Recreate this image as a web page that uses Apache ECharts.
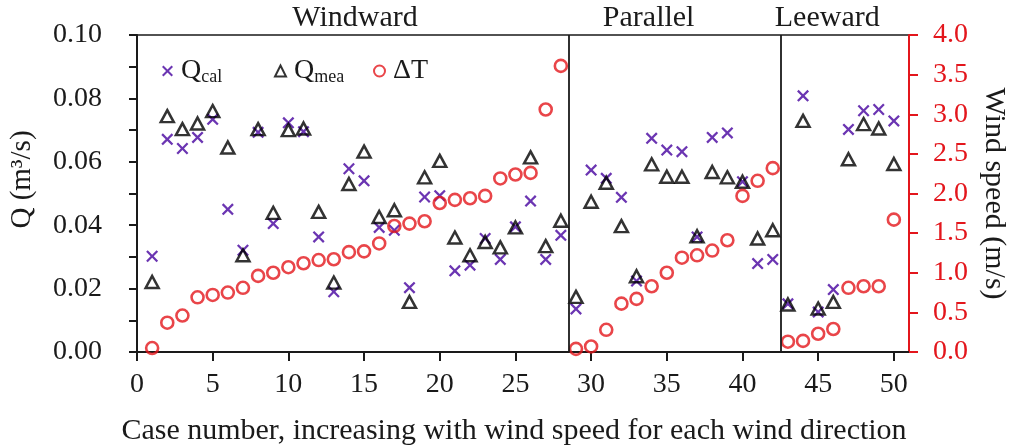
<!DOCTYPE html>
<html>
<head>
<meta charset="utf-8">
<script src="https://cdn.jsdelivr.net/npm/echarts@6/dist/echarts.min.js"></script>
<style>
  html, body { margin: 0; padding: 0; background: #fff; }
  #chart { width: 1011px; height: 448px; }
</style>
</head>
<body>
<div id="chart"></div>
<script>
// Case numbers (x axis)
const caseNo = [1, 2, 3, 4, 5, 6, 7, 8, 9, 10,
  11, 12, 13, 14, 15, 16, 17, 18, 19, 20,
  21, 22, 23, 24, 25, 26, 27, 28, 29, 30,
  31, 32, 33, 34, 35, 36, 37, 38, 39, 40,
  41, 42, 43, 44, 45, 46, 47, 48, 49, 50];

// Calculated ventilation rate Q_cal (m3/s)
const qCal = [0.0302, 0.0671, 0.0642, 0.0677, 0.0734, 0.0450, 0.0321, 0.0693, 0.0405, 0.0723,
  0.0695, 0.0363, 0.0190, 0.0578, 0.0540, 0.0393, 0.0384, 0.0203, 0.0489, 0.0493,
  0.0256, 0.0274, 0.0358, 0.0292, 0.0395, 0.0476, 0.0292, 0.0368, 0.0136, 0.0574,
  0.0548, 0.0488, 0.0224, 0.0674, 0.0637, 0.0632, 0.0363, 0.0677, 0.0691, 0.0537,
  0.0279, 0.0292, 0.0152, 0.0808, 0.0126, 0.0197, 0.0702, 0.0761, 0.0765, 0.0729];

// Measured ventilation rate Q_mea (m3/s)
const qMea = [0.0221, 0.0744, 0.0703, 0.0721, 0.0760, 0.0645, 0.0305, 0.0703, 0.0439, 0.0700,
  0.0705, 0.0442, 0.0219, 0.0530, 0.0632, 0.0426, 0.0447, 0.0158, 0.0551, 0.0603,
  0.0361, 0.0305, 0.0347, 0.0330, 0.0393, 0.0614, 0.0334, 0.0414, 0.0174, 0.0474,
  0.0534, 0.0397, 0.0239, 0.0592, 0.0553, 0.0553, 0.0365, 0.0568, 0.0551, 0.0537,
  0.0358, 0.0384, 0.0150, 0.0729, 0.0137, 0.0158, 0.0608, 0.0719, 0.0705, 0.0593];

// Wind speed (m/s), right axis
const windSpeed = [0.05, 0.37, 0.46, 0.69, 0.72, 0.75, 0.81, 0.96, 1.00, 1.07,
  1.12, 1.16, 1.17, 1.26, 1.27, 1.37, 1.59, 1.62, 1.65, 1.88,
  1.92, 1.94, 1.97, 2.19, 2.24, 2.26, 3.06, 3.61, 0.04, 0.07,
  0.28, 0.61, 0.67, 0.83, 1.00, 1.19, 1.22, 1.28, 1.41, 1.97,
  2.16, 2.32, 0.13, 0.14, 0.23, 0.29, 0.81, 0.83, 0.83, 1.67];

// Wind direction groups and the case numbers separating them
const groupNames = ['Windward', 'Parallel', 'Leeward'];
const groupDividers = [28.5, 42.5];

// x tick values
const xTicks = [0, 5, 10, 15, 20, 25, 30, 35, 40, 45, 50];

// where each group heading sits along the x axis
const groupLabelX = [14.4, 33.8, 45.6];

const FONT = '"Liberation Serif", "Times New Roman", serif';
const INK = '#1a1a1a';
const RED = '#e3161c';
const PURPLE = '#6b35b2';
const CROSS = 'path://M0,1.6L1.6,0L6,4.4L10.4,0L12,1.6L7.6,6L12,10.4L10.4,12L6,7.6L1.6,12L0,10.4L4.4,6Z';

const chart = echarts.init(document.getElementById('chart'), null, { renderer: 'canvas' });

const legendRich = {
  m: { fontFamily: FONT, fontSize: 28, color: INK, padding: [0, 0, 0, 3] },
  s: { fontFamily: FONT, fontSize: 18, color: INK, padding: [12, 0, 0, 0] }
};
function legendName(name) {
  if (name === 'Q_cal') return '{m|Q}{s|cal}';
  if (name === 'Q_mea') return '{m|Q}{s|mea}';
  return '{m|ΔT}';
}
function makeLegend(name, left) {
  return {
    data: [name], left: left, top: 52, itemWidth: 11, itemHeight: 11,
    formatter: legendName, textStyle: { rich: legendRich }, selectedMode: false
  };
}

const option = {
  animation: false,
  backgroundColor: '#fff',
  grid: {
    left: 137, right: 102, top: 35, bottom: 96, outerBoundsMode: 'none', containLabel: false,
    show: true, borderColor: INK, borderWidth: 1.5, backgroundColor: 'transparent'
  },
  legend: [makeLegend('Q_cal', 157), makeLegend('Q_mea', 269), makeLegend('ΔT', 368)],
  xAxis: {
    type: 'value', min: 0, max: 51,
    name: 'Case number, increasing with wind speed for each wind direction',
    nameLocation: 'middle', nameGap: 64,
    nameTextStyle: { fontFamily: FONT, fontSize: 30, color: INK, padding: [0, 18, 0, 0] },
    axisLine: { lineStyle: { color: INK, width: 2 } },
    axisTick: { show: true, customValues: xTicks, length: 9, inside: false, lineStyle: { color: INK, width: 2 } },
    axisLabel: { customValues: xTicks, fontFamily: FONT, fontSize: 28, color: INK, margin: 19 },
    splitLine: { show: false }
  },
  yAxis: [{
    type: 'value', min: 0, max: 0.1, interval: 0.02, position: 'left',
    name: 'Q (m³/s)', nameLocation: 'middle', nameGap: 100,
    nameTextStyle: { fontFamily: FONT, fontSize: 29, color: INK, padding: [0, 0, 0, 28] },
    axisLine: { show: true, lineStyle: { color: INK, width: 2 } },
    axisTick: { show: true, length: 8, lineStyle: { color: INK, width: 2 } },
    minorTick: { show: true, splitNumber: 2, length: 8, lineStyle: { color: INK, width: 2 } },
    axisLabel: { fontFamily: FONT, fontSize: 28, color: INK, margin: 35, formatter: v => v.toFixed(2) },
    splitLine: { show: false }
  }, {
    type: 'value', min: 0, max: 4, interval: 0.5, position: 'right',
    name: 'Wind speed (m/s)', nameLocation: 'middle', nameGap: 70, nameRotate: -90,
    nameTextStyle: { fontFamily: FONT, fontSize: 30, color: INK },
    axisLine: { show: true, lineStyle: { color: RED, width: 2 } },
    axisTick: { show: true, length: 9, lineStyle: { color: RED, width: 2 } },
    axisLabel: { fontFamily: FONT, fontSize: 28, color: RED, margin: 24, formatter: v => v.toFixed(1) },
    splitLine: { show: false }
  }],
  series: [{
    name: 'Q_cal', type: 'scatter', yAxisIndex: 0,
    symbol: CROSS, symbolSize: 12,
    itemStyle: { color: PURPLE, opacity: 1 },
    data: caseNo.map((c, i) => [c, qCal[i]]),
    markLine: {
      silent: true, symbol: 'none', label: { show: false },
      lineStyle: { color: INK, width: 1.8, type: 'solid' },
      data: groupDividers.map(x => ({ xAxis: x }))
    },
    markPoint: {
      silent: true, symbol: 'circle', symbolSize: 1,
      itemStyle: { color: 'rgba(0,0,0,0)' },
      label: { show: true, position: 'top', distance: 1, fontFamily: FONT, fontSize: 30, color: INK, formatter: p => p.name },
      data: groupNames.map((n, i) => ({ name: n, coord: [groupLabelX[i], 0.1] }))
    }
  }, {
    name: 'Q_mea', type: 'scatter', yAxisIndex: 0,
    symbol: 'triangle', symbolSize: [13, 12],
    itemStyle: { color: 'rgba(0,0,0,0)', borderColor: '#000', borderWidth: 2.5 },
    data: caseNo.map((c, i) => [c, qMea[i]])
  }, {
    name: 'ΔT', type: 'scatter', yAxisIndex: 1,
    symbol: 'circle', symbolSize: 12,
    itemStyle: { color: 'rgba(0,0,0,0)', borderColor: RED, borderWidth: 2.6 },
    data: caseNo.map((c, i) => [c, windSpeed[i]])
  }]
};

chart.setOption(option);
</script>
</body>
</html>
